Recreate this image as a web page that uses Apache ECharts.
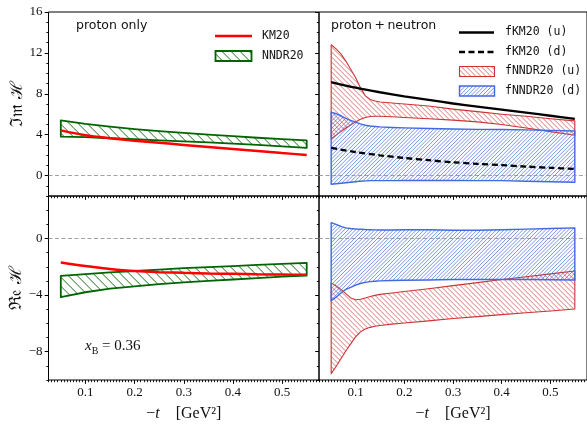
<!DOCTYPE html>
<html><head><meta charset="utf-8">
<script src="https://cdn.jsdelivr.net/npm/echarts@6/dist/echarts.min.js"></script>
<style>html,body{margin:0;padding:0;background:#fff}#c{width:587px;height:424px}</style>
</head><body><div id="c"></div>
<script>
// ---------------- data ----------------
const tCoarse = [0.05,0.1,0.15,0.2,0.25,0.3,0.35,0.4,0.45,0.5,0.55];
const tFine = [0.05,0.06,0.07,0.08,0.09,0.1,0.11,0.12,0.13,0.14,0.15,0.175,0.2,0.25,0.3,0.35,0.4,0.45,0.5,0.55];

// proton only, Im H
const imKM20     = [4.42,3.95,3.65,3.4,3.2,3.0,2.8,2.6,2.4,2.2,2.02];
const imNNDR20Hi = [5.4,5.05,4.78,4.55,4.35,4.17,4.0,3.85,3.7,3.57,3.45];
const imNNDR20Lo = [3.8,3.75,3.65,3.55,3.45,3.35,3.25,3.13,3.0,2.85,2.7];
// proton only, Re H
const reKM20     = [-1.7,-1.95,-2.15,-2.3,-2.38,-2.43,-2.47,-2.5,-2.53,-2.55,-2.57];
const reNNDR20Hi = [-2.65,-2.52,-2.4,-2.3,-2.2,-2.1,-2.02,-1.95,-1.87,-1.8,-1.72];
const reNNDR20Lo = [-4.15,-3.8,-3.55,-3.38,-3.22,-3.1,-3.0,-2.9,-2.8,-2.7,-2.62];

// proton + neutron, Im H
const imFKM20u = [9.15,8.6,8.15,7.75,7.4,7.05,6.75,6.45,6.15,5.85,5.55];
const imFKM20d = [2.7,2.3,1.98,1.72,1.5,1.3,1.15,1.02,0.88,0.76,0.65];
const imFNNDR20uHi = [12.8,12.4,11.9,11.2,10.4,9.6,8.6,7.8,7.45,7.3,7.2,7.1,7.0,6.8,6.5,6.25,6.0,5.8,5.55,5.35];
const imFNNDR20uLo = [3.6,3.95,4.3,4.65,4.95,5.25,5.5,5.68,5.77,5.8,5.8,5.75,5.68,5.55,5.42,5.25,5.0,4.65,4.3,3.95];
const imFNNDR20dHi = [6.2,6.05,5.85,5.6,5.4,5.22,5.05,4.92,4.85,4.8,4.76,4.7,4.66,4.6,4.55,4.52,4.5,4.47,4.42,4.36];
const imFNNDR20dLo = [-0.85,-0.8,-0.75,-0.7,-0.65,-0.6,-0.55,-0.52,-0.5,-0.5,-0.5,-0.5,-0.49,-0.49,-0.49,-0.5,-0.5,-0.55,-0.6,-0.66];
// proton + neutron, Re H
const reFNNDR20uHi = [-3.15,-3.35,-3.6,-3.9,-4.2,-4.33,-4.3,-4.2,-4.1,-4.02,-3.95,-3.85,-3.75,-3.55,-3.33,-3.12,-2.9,-2.7,-2.5,-2.3];
const reFNNDR20uLo = [-9.55,-9.05,-8.5,-7.95,-7.45,-6.95,-6.6,-6.4,-6.28,-6.2,-6.15,-6.05,-5.97,-5.82,-5.65,-5.52,-5.38,-5.25,-5.12,-4.98];
const reFNNDR20dHi = [1.12,1.0,0.85,0.75,0.7,0.67,0.65,0.63,0.62,0.61,0.6,0.6,0.62,0.62,0.58,0.58,0.62,0.66,0.7,0.75];
const reFNNDR20dLo = [-4.4,-4.15,-3.85,-3.6,-3.45,-3.3,-3.18,-3.1,-3.05,-3.02,-3.0,-2.97,-2.95,-2.93,-2.9,-2.9,-2.9,-2.9,-2.92,-2.93];

const xTicks = [0.1,0.2,0.3,0.4,0.5];
const imTicks = [0,4,8,12,16];
const reTicks = [-8,-4,0];
const xRange = [0.025,0.575];
const imRange = [-2,16];
const reRange = [-10,3];

// ---------------- helpers ----------------
const GREEN = '#006400', RED = '#ff0000', BRED = '#cc3333', BLUE = '#4169e1';
const HATCH = {
  green: {dir: '\\', period: 9, color: '#006400', lw: 0.9},
  red:   {dir: '\\', period: 5, color: '#d04848', lw: 0.75},
  blue:  {dir: '/',  period: 3.8, color: '#4a70e4', lw: 0.75}
};
// hatch lines clipped to a polygon given in pixel space
function hatchLines(pts, h) {
  const s = h.dir === '\\' ? -1 : 1;
  let lo = Infinity, hi = -Infinity;
  for (const p of pts) { const v = p[1] + s * p[0]; lo = Math.min(lo, v); hi = Math.max(hi, v); }
  const out = [];
  for (let c = Math.floor(lo / h.period) * h.period + 0.37; c <= hi; c += h.period) {
    const xs = [];
    for (let i = 0; i < pts.length; i++) {
      const a = pts[i], b = pts[(i + 1) % pts.length];
      const fa = a[1] + s * a[0] - c, fb = b[1] + s * b[0] - c;
      if ((fa <= 0 && fb > 0) || (fb <= 0 && fa > 0)) {
        const t = fa / (fa - fb);
        xs.push([a[0] + t * (b[0] - a[0]), a[1] + t * (b[1] - a[1])]);
      }
    }
    xs.sort((p, q) => p[0] - q[0]);
    for (let j = 0; j + 1 < xs.length; j += 2) {
      out.push({type: 'line', silent: true, shape: {x1: xs[j][0], y1: xs[j][1], x2: xs[j + 1][0], y2: xs[j + 1][1]},
        style: {stroke: h.color, lineWidth: h.lw}});
    }
  }
  return out;
}

const SERIF = 'Liberation Serif';
const MONO = 'DejaVu Sans Mono';
const SANS = 'DejaVu Sans';
const fmtNum = v => String(v).replace('-', '\u2212');

const grids = [
  {left: 48.5, top: 12, width: 270.5, height: 184},
  {left: 319, top: 12, width: 272, height: 184},
  {left: 48.5, top: 196, width: 270.5, height: 184},
  {left: 319, top: 196, width: 272, height: 184}
];
const xAxes = [], yAxes = [];
grids.forEach((g, i) => {
  g.show = true; g.borderColor = '#000'; g.borderWidth = 1; g.backgroundColor = 'transparent';
  const bottomRow = i >= 2, leftCol = i % 2 === 0;
  xAxes.push({type: 'value', gridIndex: i, position: 'bottom', min: xRange[0], max: xRange[1], interval: 0.00625,
    axisLine: {show: false, onZero: false}, splitLine: {show: false}, axisLabel: {show: false},
    axisTick: {show: true, length: 2.2, lineStyle: {color: '#000', width: 0.9}}});
  xAxes.push({type: 'value', gridIndex: i, position: 'bottom', min: xRange[0], max: xRange[1],
    axisLine: {show: false, onZero: false}, splitLine: {show: false},
    axisTick: {show: true, customValues: xTicks, length: 3.8, lineStyle: {color: '#000', width: 1}},
    axisLabel: {show: bottomRow, customValues: xTicks, margin: 6, fontFamily: SERIF, fontSize: 13, color: '#111', formatter: v => fmtNum(v)},
    name: bottomRow ? '{m|\u2212}{i|t}{m|    [GeV\u00b2]}' : '', nameLocation: 'middle', nameGap: 26,
    nameTextStyle: {rich: {m: {fontFamily: SERIF, fontSize: 16, color: '#111'}, i: {fontFamily: SERIF, fontStyle: 'italic', fontSize: 16, color: '#111'}}}});
  const rng = bottomRow ? reRange : imRange;
  const tks = bottomRow ? reTicks : imTicks;
  yAxes.push({type: 'value', gridIndex: i, position: 'left', min: rng[0], max: rng[1], interval: 1,
    axisLine: {show: false, onZero: false}, splitLine: {show: false}, axisLabel: {show: false},
    axisTick: {show: true, length: 2.2, lineStyle: {color: '#000', width: 0.9}}});
  yAxes.push({type: 'value', gridIndex: i, position: 'left', min: rng[0], max: rng[1],
    axisLine: {show: false, onZero: false}, splitLine: {show: false},
    axisTick: {show: true, customValues: tks, length: 3.8, lineStyle: {color: '#000', width: 1}},
    axisLabel: {show: leftCol, customValues: tks, margin: 6, fontFamily: SERIF, fontSize: 13, color: '#111', formatter: v => fmtNum(v)},
    name: leftCol ? (bottomRow ? '\u211c\ud835\udd22 \u210b' : '\u2111\ud835\udd2a \u210b') : '',
    nameLocation: 'middle', nameGap: 22, nameRotate: 90,
    nameTextStyle: {fontFamily: 'DejaVu Serif', fontSize: 17, color: '#111'}});
});

function band(gi, ts, lo, hi, color, h, lw) {
  return {
    type: 'custom', xAxisIndex: gi * 2 + 1, yAxisIndex: gi * 2 + 1, z: 2, silent: true,
    data: ts.map((t, k) => [t, lo[k], hi[k]]),
    encode: {x: 0, y: [1, 2]},
    renderItem: (params, api) => {
      if (params.dataIndex !== 0) return null;
      const pts = [];
      for (let k = 0; k < ts.length; k++) pts.push(api.coord([ts[k], hi[k]]));
      for (let k = ts.length - 1; k >= 0; k--) pts.push(api.coord([ts[k], lo[k]]));
      return {type: 'group', children: hatchLines(pts, h).concat([
        {type: 'polygon', shape: {points: pts}, style: {fill: 'none', stroke: color, lineWidth: lw, lineJoin: 'round'}}
      ])};
    }
  };
}
function line(gi, ts, vals, color, width, dashed) {
  return {
    type: 'line', xAxisIndex: gi * 2 + 1, yAxisIndex: gi * 2 + 1, z: 4, silent: true,
    data: ts.map((t, k) => [t, vals[k]]), showSymbol: false, smooth: 0.3,
    lineStyle: {color: color, width: width, type: dashed ? [6, 3.5] : 'solid'}
  };
}
function zero(gi) {
  return {
    type: 'line', xAxisIndex: gi * 2 + 1, yAxisIndex: gi * 2 + 1, z: 1, silent: true, data: [],
    markLine: {silent: true, symbol: 'none', label: {show: false},
      lineStyle: {color: '#8a8a8a', width: 0.8, type: [4, 2.5]}, data: [{yAxis: 0}]}
  };
}

const series = [
  zero(0), zero(1), zero(2), zero(3),
  band(0, tCoarse, imNNDR20Lo, imNNDR20Hi, GREEN, HATCH.green, 1.8),
  line(0, tCoarse, imKM20, RED, 2.5),
  band(2, tCoarse, reNNDR20Lo, reNNDR20Hi, GREEN, HATCH.green, 1.8),
  line(2, tCoarse, reKM20, RED, 2.5),
  band(1, tFine, imFNNDR20uLo, imFNNDR20uHi, BRED, HATCH.red, 1.1),
  band(1, tFine, imFNNDR20dLo, imFNNDR20dHi, BLUE, HATCH.blue, 1.4),
  line(1, tCoarse, imFKM20u, '#000', 2.3),
  line(1, tCoarse, imFKM20d, '#000', 2.3, true),
  band(3, tFine, reFNNDR20uLo, reFNNDR20uHi, BRED, HATCH.red, 1.1),
  band(3, tFine, reFNNDR20dLo, reFNNDR20dHi, BLUE, HATCH.blue, 1.4)
];

const txt = (x, y, text, font, size, extra) => Object.assign({type: 'text', x, y, silent: true,
  style: Object.assign({text, fontFamily: font, fontSize: size, fill: '#111', verticalAlign: 'middle'}, extra || {})});
function legendBox(x, y, w, h, stroke, lw, hs) {
  const pts = [[x, y], [x + w, y], [x + w, y + h], [x, y + h]];
  return {type: 'group', silent: true, children: hatchLines(pts, hs).concat([
    {type: 'rect', shape: {x, y, width: w, height: h}, style: {fill: 'none', stroke, lineWidth: lw}}])};
}
const graphic = [
  txt(76, 26, 'proton only', SANS, 12.5),
  txt(331, 26, 'proton\u2009+\u2009neutron', SANS, 12.5),
  {type: 'line', shape: {x1: 215, y1: 36, x2: 252, y2: 36}, style: {stroke: RED, lineWidth: 2.5}, silent: true},
  txt(262, 36, 'KM20', MONO, 11.5),
  legendBox(215.5, 51, 36, 10, GREEN, 1.8, HATCH.green),
  txt(262, 56, 'NNDR20', MONO, 11.5),
  {type: 'line', shape: {x1: 459, y1: 32.5, x2: 494, y2: 32.5}, style: {stroke: '#000', lineWidth: 2.3}, silent: true},
  txt(505, 32.5, 'fKM20 (u)', MONO, 11.5),
  {type: 'line', shape: {x1: 459, y1: 52, x2: 494, y2: 52}, style: {stroke: '#000', lineWidth: 2.3, lineDash: [6, 3.5]}, silent: true},
  txt(505, 52, 'fKM20 (d)', MONO, 11.5),
  legendBox(459.5, 66.5, 35, 10, BRED, 1.1, HATCH.red),
  txt(505, 71.5, 'fNNDR20 (u)', MONO, 11.5),
  legendBox(459.5, 86, 35, 10, BLUE, 1.4, HATCH.blue),
  txt(505, 91, 'fNNDR20 (d)', MONO, 11.5),
  {type: 'text', x: 85, y: 346, silent: true, style: {
    text: '{i|x}{s|B}{n| = 0.36}', verticalAlign: 'middle',
    rich: {i: {fontFamily: SERIF, fontStyle: 'italic', fontSize: 15, fill: '#111', lineHeight: 20, verticalAlign: 'middle'},
           s: {fontFamily: SERIF, fontSize: 10, fill: '#111', lineHeight: 20, verticalAlign: 'bottom'},
           n: {fontFamily: SERIF, fontSize: 15, fill: '#111', lineHeight: 20, verticalAlign: 'middle'}}}}
];

const chart = echarts.init(document.getElementById('c'), null, {renderer: 'canvas', width: 587, height: 424});
chart.setOption({animation: false, backgroundColor: '#fff', grid: grids, xAxis: xAxes, yAxis: yAxes, series, graphic});
</script></body></html>
